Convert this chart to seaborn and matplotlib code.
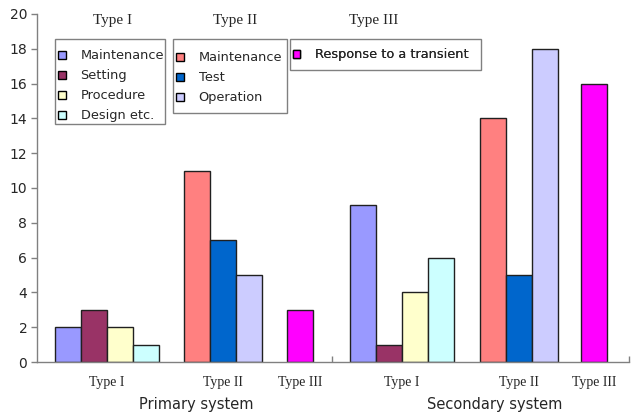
import matplotlib
matplotlib.use("Agg")
import matplotlib.pyplot as plt
import matplotlib.transforms as mtransforms
from matplotlib.patches import Patch, Rectangle
import seaborn as sns
import pandas as pd

# ---------------- data ----------------
systems = ["Primary system", "Secondary system"]
types = ["Type I", "Type II", "Type III"]
type1_causes = ["Maintenance", "Setting", "Procedure", "Design etc."]
type2_causes = ["Maintenance", "Test", "Operation"]
type3_causes = ["Response to a transient"]

primary_type1 = [2, 3, 2, 1]
primary_type2 = [11, 7, 5]
primary_type3 = [3]
secondary_type1 = [9, 1, 4, 6]
secondary_type2 = [14, 5, 18]
secondary_type3 = [16]

y_ticks = [0, 2, 4, 6, 8, 10, 12, 14, 16, 18, 20]

# ---------------- styling / layout ----------------
type1_colors = ["#9999FF", "#993366", "#FFFFCC", "#CCFFFF"]
type2_colors = ["#FF8080", "#0066CC", "#CCCCFF"]
type3_colors = ["#FF00FF"]

# centre of the first bar of each group (in bar-width units)
group_start = {
    ("Primary system", "Type I"): 1.19,
    ("Primary system", "Type II"): 6.15,
    ("Primary system", "Type III"): 10.12,
    ("Secondary system", "Type I"): 12.54,
    ("Secondary system", "Type II"): 17.54,
    ("Secondary system", "Type III"): 21.42,
}
x_max = 22.77
divider = 11.35
system_label_x = {"Primary system": 6.12, "Secondary system": 17.6}

# legend layout in axes fraction: content anchor (x, y) and frame (x0, y0, w, h)
legend_anchor = {"Type I": (0.0355, 0.898), "Type II": (0.235, 0.8925),
                 "Type III": (0.432, 0.901)}
legend_frame = {"Type I": (0.0304, 0.6839, 0.1858, 0.2443),
                "Type II": (0.2297, 0.7155, 0.1926, 0.2126),
                "Type III": (0.4274, 0.8391, 0.3226, 0.0891)}
legend_title_x = {"Type I": 0.127, "Type II": 0.334, "Type III": 0.568}

causes = {"Type I": type1_causes, "Type II": type2_causes, "Type III": type3_causes}
colors = {"Type I": type1_colors, "Type II": type2_colors, "Type III": type3_colors}
values = {
    ("Primary system", "Type I"): primary_type1,
    ("Primary system", "Type II"): primary_type2,
    ("Primary system", "Type III"): primary_type3,
    ("Secondary system", "Type I"): secondary_type1,
    ("Secondary system", "Type II"): secondary_type2,
    ("Secondary system", "Type III"): secondary_type3,
}

rows = []
palette = {}
for s in systems:
    for t in types:
        for i, (c, v) in enumerate(zip(causes[t], values[(s, t)])):
            key = f"{t}|{c}"
            palette[key] = colors[t][i]
            rows.append({"system": s, "type": t, "key": key,
                         "pos": group_start[(s, t)] + i, "value": v})
df = pd.DataFrame(rows)

sns.set_style("white")
plt.rcParams["font.family"] = ["DejaVu Sans"]

fig = plt.figure(figsize=(6.31, 4.13), dpi=100)
ax = fig.add_axes([37 / 631, 51 / 413, 592 / 631, 348 / 413])

sns.barplot(data=df, x="pos", y="value", hue="key", palette=palette,
            native_scale=True, dodge=False, width=1.0, saturation=1,
            edgecolor="#202020", linewidth=1.0, legend=False, ax=ax)

ax.set_xlim(0, x_max)
ax.set_ylim(0, 20)
ax.set_yticks(y_ticks)
ax.set_xlabel("")
ax.set_ylabel("")

for sp in ["top", "right"]:
    ax.spines[sp].set_visible(False)
for sp in ["left", "bottom"]:
    ax.spines[sp].set_color("#808080")
    ax.spines[sp].set_linewidth(1.0)

ax.tick_params(axis="y", direction="out", length=4, width=1, color="#808080",
               labelsize=10, pad=3, left=True)

# group labels as major x ticks
label_pos, label_txt = [], []
for s in systems:
    for t in types:
        n = len(causes[t])
        label_pos.append(group_start[(s, t)] + (n - 1) / 2)
        label_txt.append(t)
ax.set_xticks(label_pos)
ax.set_xticklabels(label_txt, fontfamily="Liberation Serif", fontsize=10)
ax.tick_params(axis="x", which="major", length=0, pad=10, bottom=True)
ax.set_xticks([divider, x_max], minor=True)
ax.tick_params(axis="x", which="minor", direction="in", length=4, width=1,
               color="#808080", bottom=True)

trans = mtransforms.blended_transform_factory(ax.transData, ax.transAxes)
for s in systems:
    ax.text(system_label_x[s], -0.121, s, transform=trans, ha="center",
            va="center", fontsize=10.5)

# legends (frame drawn separately for exact box geometry)
legs = []
for t in types:
    x0, y0, w, h = legend_frame[t]
    ax.add_patch(Rectangle((x0, y0), w, h, transform=ax.transAxes,
                           facecolor="white", edgecolor="#808080",
                           linewidth=1.0, zorder=4.9, clip_on=False))
    handles = [Patch(facecolor=col, edgecolor="black", linewidth=1.0)
               for col in colors[t]]
    leg = ax.legend(handles, causes[t], loc="upper left",
                    bbox_to_anchor=legend_anchor[t], frameon=False,
                    fontsize=9.3, handlelength=0.6, handleheight=0.6,
                    handletextpad=1.15, labelspacing=0.54, borderpad=0,
                    borderaxespad=0)
    leg.set_zorder(5)
    legs.append(leg)
    ax.add_artist(leg)
    ax.text(legend_title_x[t], 0.98, t, transform=ax.transAxes, ha="center",
            va="center", fontfamily="Liberation Serif", fontsize=11)

fig.savefig("out.png", dpi=100)
